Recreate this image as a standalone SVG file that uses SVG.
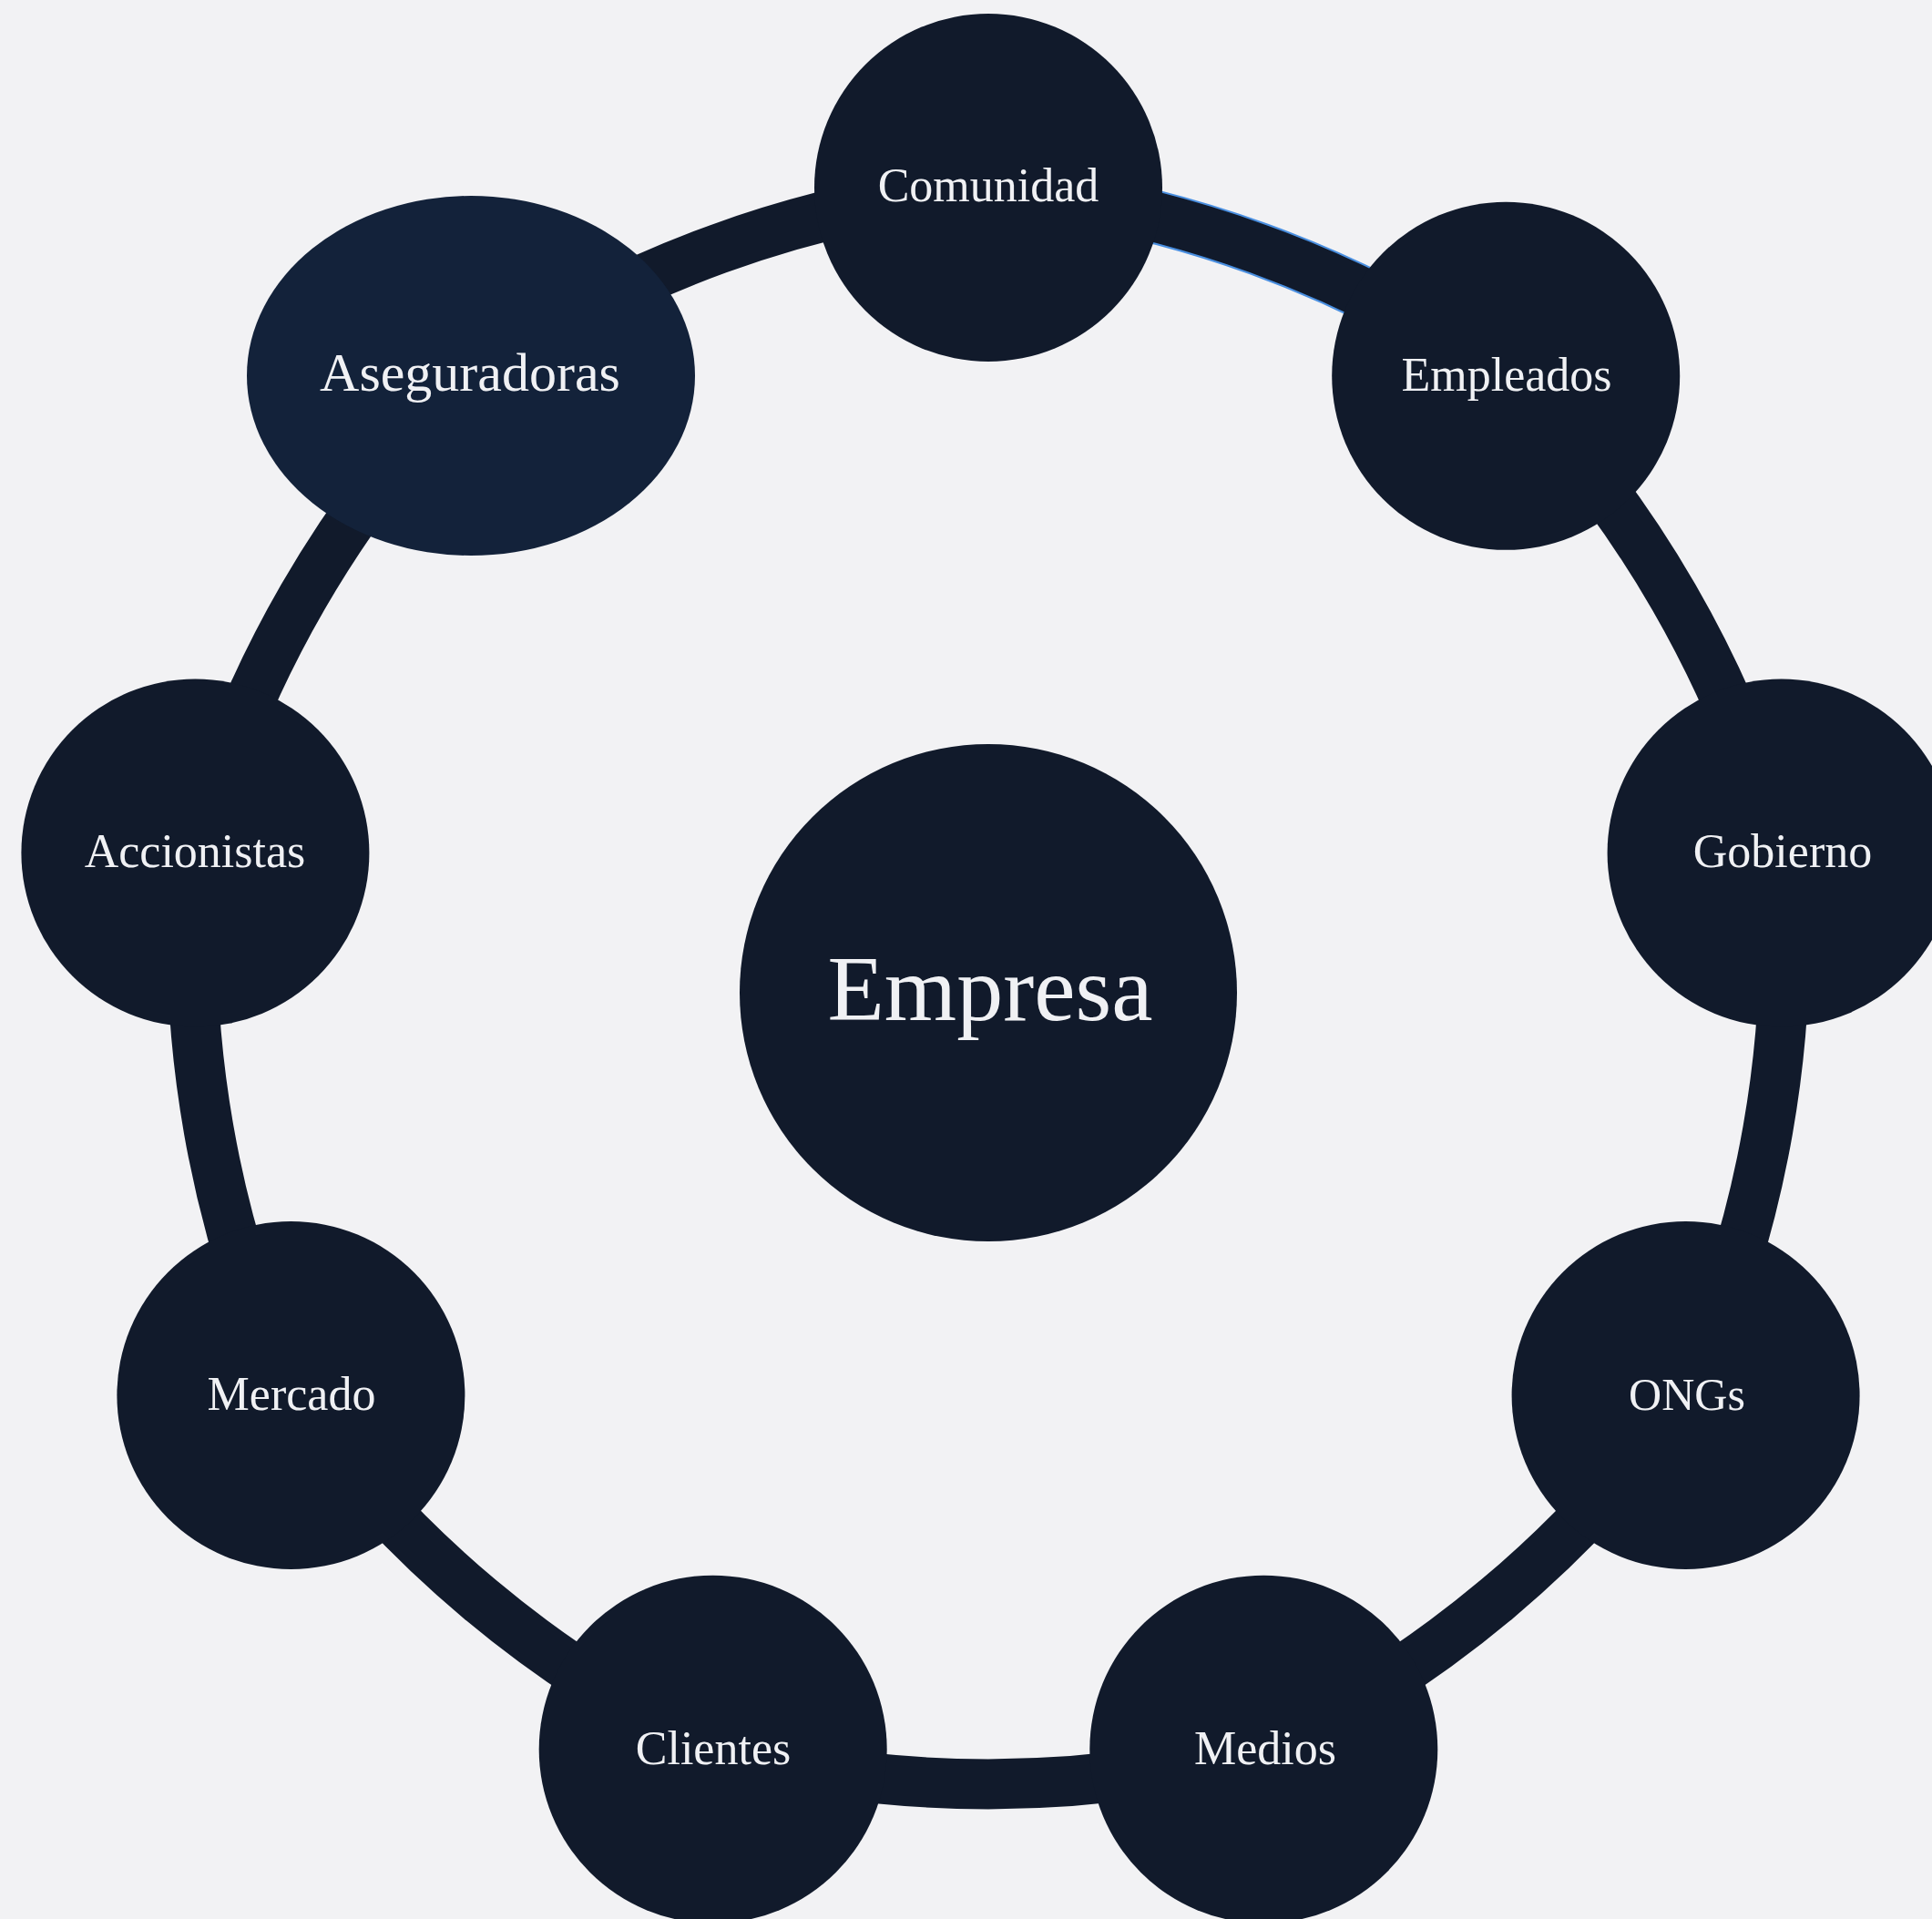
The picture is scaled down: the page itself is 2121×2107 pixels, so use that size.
<svg xmlns="http://www.w3.org/2000/svg" width="2121" height="2107" viewBox="0 0 2121 2107">
<style>
.bg{fill:#f2f2f4}
.edge{fill:none;stroke:#111a2b;stroke-width:55}
.edge-hl{fill:none;stroke:#4a8fe0;stroke-width:59}
.node{fill:#111a2b}
.node-hover{fill:#13223a}
.lbl{font-family:"Liberation Serif","DejaVu Serif",serif;font-size:52px;fill:#f0f1f4;text-anchor:middle}
.big{font-size:102px}
</style>
<rect class="bg" x="0" y="0" width="2121" height="2107"/>
<g id="connectors">
<path class="edge-hl" d="M1085,206 A1215,1215 0 0 1 1653.2,412.8"/>
<path class="edge" d="M1085,206 A1215,1215 0 0 1 1653.2,412.8"/>
<path class="edge" d="M1653.2,412.8 A1215,1215 0 0 1 1955.6,936.5"/>
<path class="edge" d="M1955.6,936.5 A1215,1215 0 0 1 1850.6,1532"/>
<path class="edge" d="M1850.6,1532 A1215,1215 0 0 1 1387.3,1920.7"/>
<path class="edge" d="M1387.3,1920.7 A1215,1215 0 0 1 782.7,1920.7"/>
<path class="edge" d="M782.7,1920.7 A1215,1215 0 0 1 319.4,1532"/>
<path class="edge" d="M319.4,1532 A1215,1215 0 0 1 214.4,936.5"/>
<path class="edge" d="M214.4,936.5 A1215,1215 0 0 1 516.8,412.8"/>
<path class="edge" d="M516.8,412.8 A1215,1215 0 0 1 1085,206"/>
</g>
<g id="node-empresa">
<circle class="node" cx="1085" cy="1090" r="273"/>
<text class="lbl big" x="1087" y="1120">Empresa</text>
</g>
<g id="node-comunidad">
<circle class="node" cx="1085" cy="206" r="191"/>
<text class="lbl" x="1085" y="221">Comunidad</text>
</g>
<g id="node-empleados">
<circle class="node" cx="1653.2" cy="412.8" r="191"/>
<text class="lbl" x="1654" y="429">Empleados</text>
</g>
<g id="node-gobierno">
<circle class="node" cx="1955.6" cy="936.5" r="191"/>
<text class="lbl" x="1957" y="952">Gobierno</text>
</g>
<g id="node-ongs">
<circle class="node" cx="1850.6" cy="1532" r="191"/>
<text class="lbl" x="1852" y="1548" style="font-size:50px">ONGs</text>
</g>
<g id="node-medios">
<circle class="node" cx="1387.3" cy="1920.7" r="191"/>
<text class="lbl" x="1389" y="1937">Medios</text>
</g>
<g id="node-clientes">
<circle class="node" cx="782.7" cy="1920.7" r="191"/>
<text class="lbl" x="783" y="1937">Clientes</text>
</g>
<g id="node-mercado">
<circle class="node" cx="319.4" cy="1532" r="191"/>
<text class="lbl" x="320" y="1548">Mercado</text>
</g>
<g id="node-accionistas">
<circle class="node" cx="214.4" cy="936.5" r="191"/>
<text class="lbl" x="214" y="952">Accionistas</text>
</g>
<g id="node-aseguradoras">
<ellipse class="node-hover" cx="517" cy="412.5" rx="246" ry="197.5"/>
<text class="lbl" x="516" y="429" style="font-size:60px">Aseguradoras</text>
</g>
</svg>
